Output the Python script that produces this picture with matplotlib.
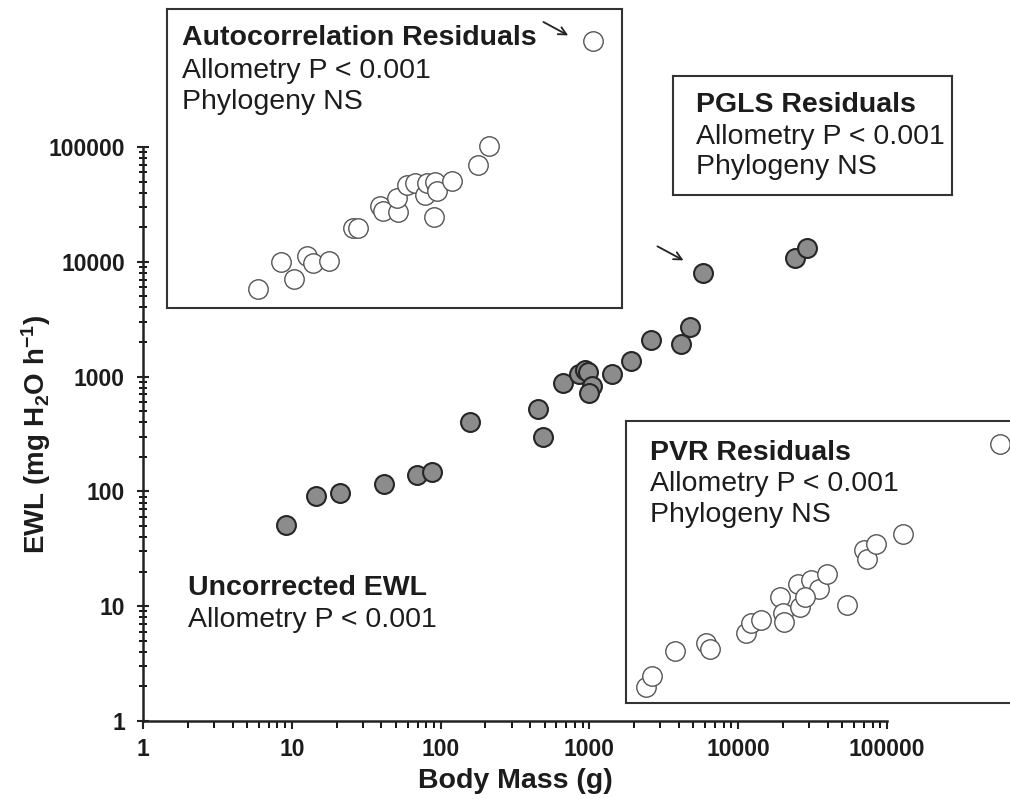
import matplotlib
matplotlib.use('Agg')
import matplotlib.pyplot as plt

plt.rcParams['font.family'] = ['Liberation Sans', 'DejaVu Sans']
plt.rcParams['mathtext.fontset'] = 'custom'
plt.rcParams['mathtext.rm'] = 'Liberation Sans:bold'
plt.rcParams['mathtext.it'] = 'Liberation Sans:bold'
plt.rcParams['mathtext.bf'] = 'Liberation Sans:bold'

# uncorrected EWL vs body mass (grey dots)
body_mass = [9.1, 14.5, 21, 41.5, 69, 87.5, 157, 454, 490, 665, 855, 934, 974,
             1046, 994, 1426, 1914, 2583, 4108, 4745, 5770, 23990, 28850]
ewl = [51, 92, 97, 115, 140, 147, 400, 519, 296, 875, 1054, 1143, 1104,
       829, 715, 1054, 1376, 2083, 1923, 2688, 7945, 10860, 13110]

# residual plots (log units), one point per species
auto_x = [0.613, 0.765, 0.854, 0.938, 0.982, 1.089, 1.250, 1.284, 1.430, 1.452,
          1.552, 1.542, 1.609, 1.664, 1.732, 1.743, 1.799, 1.810, 1.911, 1.792,
          2.089, 2.163, 2.857]
auto_y = [0.166, 0.403, 0.255, 0.453, 0.395, 0.409, 0.694, 0.699, 0.891, 0.848,
          0.839, 0.961, 1.071, 1.091, 0.984, 1.091, 1.100, 1.022, 1.109, 0.795,
          1.246, 1.414, 2.326]
pvr_x = [0.132, 0.172, 0.331, 0.537, 0.564, 0.803, 0.837, 0.904, 1.034, 1.052,
         1.062, 1.156, 1.168, 1.242, 1.295, 1.201, 1.351, 1.481, 1.599, 1.615,
         1.676, 1.861, 2.510]
pvr_y = [0.137, 0.235, 0.456, 0.520, 0.468, 0.607, 0.694, 0.723, 0.926, 0.781,
         0.703, 1.037, 0.839, 1.071, 0.993, 0.921, 1.124, 0.856, 1.333, 1.252,
         1.385, 1.472, 2.256]

x_ticks = [1, 10, 100, 1000, 10000, 100000]
y_ticks = [1, 10, 100, 1000, 10000, 100000]

W, H = 1010, 799
ink = '#1c1c1c'
box_col = '#333333'


def px_box(x0, y0, x1, y1):
    # pixel box (top-left origin) -> figure fraction rect
    return [x0 / W, 1 - y1 / H, (x1 - x0) / W, (y1 - y0) / H]


fig = plt.figure(figsize=(W / 100, H / 100), dpi=100)
ax = fig.add_axes(px_box(143, 147, 887, 721))

ax.plot(body_mass, ewl, 'o', markersize=13.6, markerfacecolor='#8c8c8c',
        markeredgecolor='#262626', markeredgewidth=1.5, zorder=3)
ax.set_xscale('log')
ax.set_yscale('log')
ax.set_xlim(1, 100000)
ax.set_ylim(1, 100000)
ax.set_xticks(x_ticks)
ax.set_xticklabels([str(t) for t in x_ticks])
ax.set_yticks(y_ticks)
ax.set_yticklabels([str(t) for t in y_ticks])
for s in ['top', 'right']:
    ax.spines[s].set_visible(False)
for s in ['left', 'bottom']:
    ax.spines[s].set_linewidth(1.8)
    ax.spines[s].set_color('#222222')
ax.tick_params(axis='x', which='major', direction='out', length=6, width=1.5,
               pad=6, labelsize=16.5, colors='#222222')
ax.tick_params(axis='x', which='minor', direction='out', length=5, width=1.3)
ax.tick_params(axis='y', which='major', direction='inout', length=8, width=1.5,
               pad=9, labelsize=16.5, colors='#222222')
ax.tick_params(axis='y', which='minor', direction='inout', length=6, width=1.3)
for lab in ax.get_xticklabels() + ax.get_yticklabels():
    lab.set_fontweight('bold')
    lab.set_color(ink)

ax.set_xlabel('Body Mass (g)', fontsize=20.5, fontweight='bold', color=ink, labelpad=5)
ax.set_ylabel(r'EWL (mg H$_2$O h$^{-1}$)', fontsize=20, fontweight='bold', color=ink,
              labelpad=-3)

# arrow to the outlier in the main plot
ax.annotate('', xy=(4458, 10020), xytext=(2760, 14000),
            arrowprops=dict(arrowstyle='->', color='#222222', lw=1.3, mutation_scale=14))

# autocorrelation inset
ax_a = fig.add_axes(px_box(167, 9, 622, 308))
ax_a.plot(auto_x, auto_y, 'o', markersize=14, markerfacecolor='white',
          markeredgecolor='#555555', markeredgewidth=1.0, clip_on=False)
ax_a.set_xlim(0, 455 / 149)
ax_a.set_ylim(0, 299 / 114.8)
ax_a.set_xticks([])
ax_a.set_yticks([])
for s in ax_a.spines.values():
    s.set_linewidth(1.5)
    s.set_color(box_col)
ax_a.annotate('', xy=(2.709, 2.363), xytext=(2.51, 2.503),
              arrowprops=dict(arrowstyle='->', color='#222222', lw=1.3, mutation_scale=14))

# PVR inset (right edge runs off the figure)
ax_p = fig.add_axes(px_box(626, 421, 1010, 703))
ax_p.plot(pvr_x, pvr_y, 'o', markersize=14, markerfacecolor='white',
          markeredgecolor='#555555', markeredgewidth=1.0, clip_on=False)
ax_p.set_xlim(0, 384 / 149)
ax_p.set_ylim(0, 282 / 114.8)
ax_p.set_xticks([])
ax_p.set_yticks([])
ax_p.spines['right'].set_visible(False)
for s in ['top', 'left', 'bottom']:
    ax_p.spines[s].set_linewidth(1.5)
    ax_p.spines[s].set_color(box_col)

# PGLS box, text only
ax_g = fig.add_axes(px_box(673, 76, 952, 195))
ax_g.set_xticks([])
ax_g.set_yticks([])
for s in ax_g.spines.values():
    s.set_linewidth(1.5)
    s.set_color(box_col)


def label_block(x, ys, lines):
    for i, (y, txt) in enumerate(zip(ys, lines)):
        fig.text(x / W, 1 - y / H, txt, fontsize=20.5, color=ink, va='center',
                 ha='left', fontweight='bold' if i == 0 else 'normal', zorder=10)


label_block(182, [38, 71, 102], ['Autocorrelation Residuals', 'Allometry P < 0.001', 'Phylogeny NS'])
label_block(696, [105, 137, 167], ['PGLS Residuals', 'Allometry P < 0.001', 'Phylogeny NS'])
label_block(650, [453, 484, 515], ['PVR Residuals', 'Allometry P < 0.001', 'Phylogeny NS'])
label_block(188, [588, 620], ['Uncorrected EWL', 'Allometry P < 0.001'])

fig.savefig('out.png', dpi=100)
